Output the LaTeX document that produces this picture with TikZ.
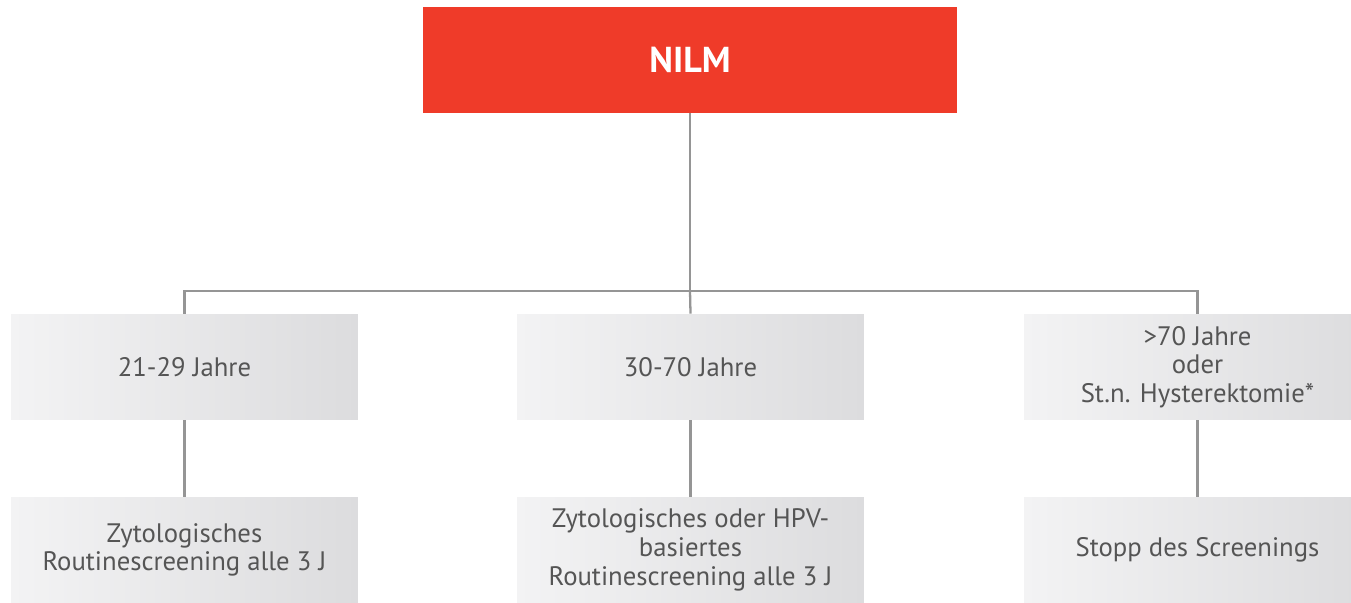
\documentclass[tikz,border=0pt]{standalone}
\usepackage{fontspec}
\setmainfont{PT Sans}
\begin{document}
\begin{tikzpicture}[x=0.02cm,y=-0.02cm,
  gbox/.style={rectangle, inner sep=0pt, minimum width=6.94cm, minimum height=2.12cm,
    left color=boxL, right color=boxR, draw=none, align=center, text=txtgray,
    font=\fontsize{15.2}{16.3}\selectfont},
  topbox/.style={rectangle, inner sep=0pt, minimum width=10.68cm, minimum height=2.12cm,
    fill=nilmred, text=white, font=\fontsize{20.5}{22}\selectfont\bfseries},
  conn/.style={draw=linegray, line width=1.3pt}]
\definecolor{nilmred}{HTML}{EF3B29}
\definecolor{boxL}{HTML}{F3F3F4}
\definecolor{boxR}{HTML}{DCDCDE}
\definecolor{txtgray}{HTML}{555555}
\definecolor{linegray}{HTML}{959595}
\useasboundingbox (0,0) rectangle (1351,602);
\clip (0,0) rectangle (1351,602);
\node[topbox] (nilm) at (690,60) {NILM};
\node[gbox] (a1) at (184.5,367) {21-29 Jahre};
\node[gbox] (a2) at (690.5,367) {30-70 Jahre};
\node[gbox] (a3) at (1197.5,367) {>70 Jahre\\oder\\St.n. Hysterektomie*};
\node[gbox] (b1) at (184.5,550) {Zytologisches\\Routinescreening alle 3 J};
\node[gbox] (b2) at (690.5,550) {Zytologisches oder HPV-\\basiertes\\Routinescreening alle 3 J};
\node[gbox] (b3) at (1197.5,550) {Stopp des Screenings};
\coordinate (j) at (690,291);
\draw[conn] (nilm.south) -- (j);
\draw[conn] (a1.north) |- (j) -| (a3.north);
\draw[conn] (j) -- (a2.north);
\draw[conn] (a1.south) -- (b1.north);
\draw[conn] (a2.south) -- (b2.north);
\draw[conn] (a3.south) -- (b3.north);
\end{tikzpicture}
\end{document}
